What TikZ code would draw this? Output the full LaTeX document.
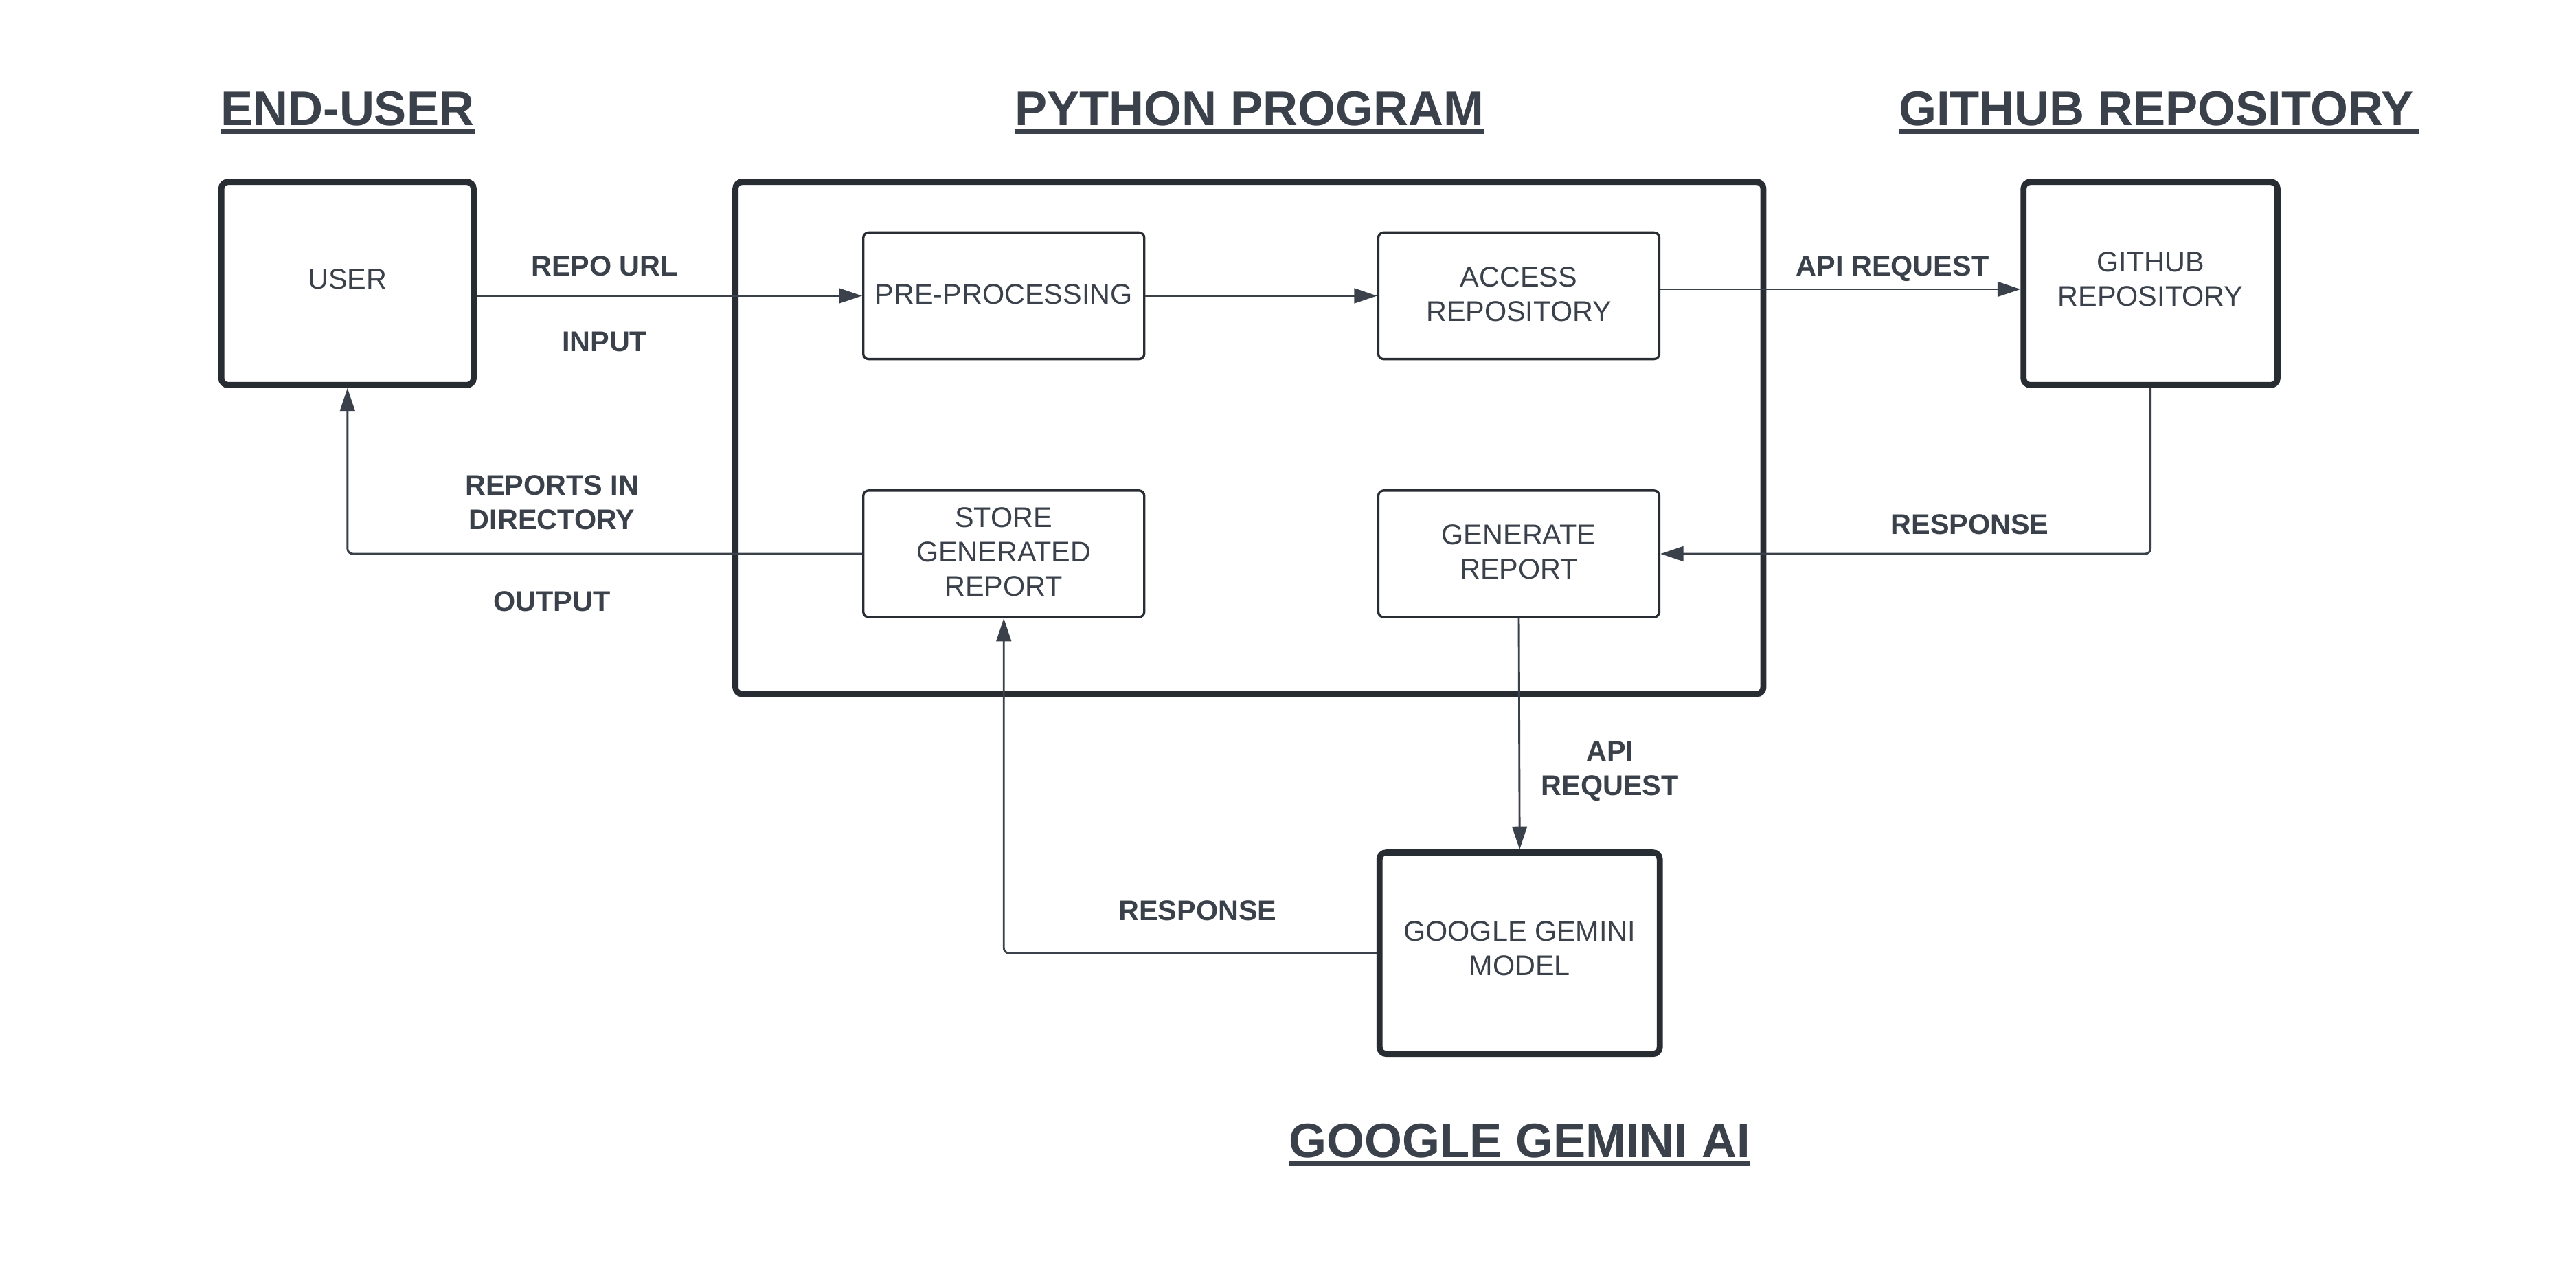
\documentclass[tikz,border=0pt]{standalone}
\usepackage{fontspec}
\setmainfont{Liberation Sans}
\usetikzlibrary{arrows.meta,calc}
\definecolor{linecol}{HTML}{282C33}
\definecolor{textcol}{HTML}{3A414A}
\newcommand\myboxfont{\fontsize{12.3}{14.9}\selectfont}
\newcommand\mylblfont{\fontsize{12.3}{14.9}\selectfont\bfseries}
\newcommand\myttlfont{\fontsize{21}{25}\selectfont\bfseries}
\begin{document}
\begin{tikzpicture}[x=0.025cm,y=-0.025cm,
  thickbox/.style={draw=linecol, line width=0.092cm, rounded corners=0.1cm, text=textcol, align=center, font=\myboxfont, inner sep=0pt, text depth=0.14cm},
  thinbox/.style={draw=linecol, line width=0.035cm, rounded corners=0.08cm, text=textcol, align=center, font=\myboxfont, inner sep=0pt, text depth=0.06cm, minimum width=4.275cm, minimum height=1.925cm},
  lbl/.style={text=textcol, font=\mylblfont, align=center, inner sep=0pt, text depth=0pt},
  ttl/.style={text=textcol, font=\myttlfont, inner sep=0pt, anchor=base},
  uline/.style={draw=textcol, line width=0.075cm},
  arr/.style={draw=textcol, line width=0.03cm, -{Triangle[length=0.35cm,width=0.225cm]}, rounded corners=0.08cm},
]
\useasboundingbox[fill=white] (0,0) rectangle (1568,768.5);

% titles
\node[ttl] (t1) at (211.5,76.5) {END-USER};
\node[ttl] (t2) at (760.5,76.5) {PYTHON PROGRAM};
\node[ttl] (t3) at (1312.5,76.5) {GITHUB REPOSITORY};
\node[ttl] (t4) at (925,704.5) {GOOGLE GEMINI AI};
\foreach \t in {t1,t2,t4}{
  \draw[uline] ($(\t.base west)+(0,3.5)$) -- ($(\t.base east)+(0,3.5)$);
}
\draw[uline] ($(t3.base west)+(0,3.5)$) -- ($(t3.base east)+(3,3.5)$);

% boxes
\node[thickbox, minimum width=3.8375cm, minimum height=3.0875cm] (user) at (211.5,172.5) {USER};
\node[thickbox, minimum width=15.6375cm, minimum height=7.7875cm] (prog) at (760.5,266.5) {};
\node[thinbox] (pre) at (611,180) {PRE-PROCESSING};
\node[thinbox] (acc) at (924.5,180) {ACCESS\\REPOSITORY};
\node[thickbox, minimum width=3.8625cm, minimum height=3.0875cm] (gh) at (1309,172.5) {GITHUB\\REPOSITORY};
\node[thinbox] (store) at (611,337) {STORE\\GENERATED\\REPORT};
\node[thinbox] (gen) at (924.5,337) {GENERATE\\REPORT};
\node[thickbox, minimum width=4.2625cm, minimum height=3.0625cm] (gem) at (925,580) {GOOGLE GEMINI\\MODEL};

% connectors
\draw[arr] (user.east |- pre.west) -- (pre.west);
\draw[arr] (pre.east) -- (acc.west);
\coordinate (a1) at ($(acc.east)+(0,-4)$);
\draw[arr] (a1) -- (a1 -| gh.west);
\draw[arr] (gh.south) |- (gen.east);
\draw[arr] (gen.south) -- (gem.north);
\draw[arr] (gem.west) -| (store.south);
\draw[arr] (store.west) -| (user.south);

% labels
\node[lbl] (l1) at (368,162) {REPO URL};
\node[lbl] (l2) at (368,208) {INPUT};
\node[lbl] (l3) at (1152,162) {API REQUEST};
\node[lbl] (l4) at (1199,319) {RESPONSE};
\node[lbl] (l5) at (980,467.5) {API\\REQUEST};
\node[lbl] (l6) at (729,554) {RESPONSE};
\node[lbl] (l7) at (336,305.5) {REPORTS IN\\DIRECTORY};
\node[lbl] (l8) at (336,366) {OUTPUT};
\end{tikzpicture}
\end{document}
